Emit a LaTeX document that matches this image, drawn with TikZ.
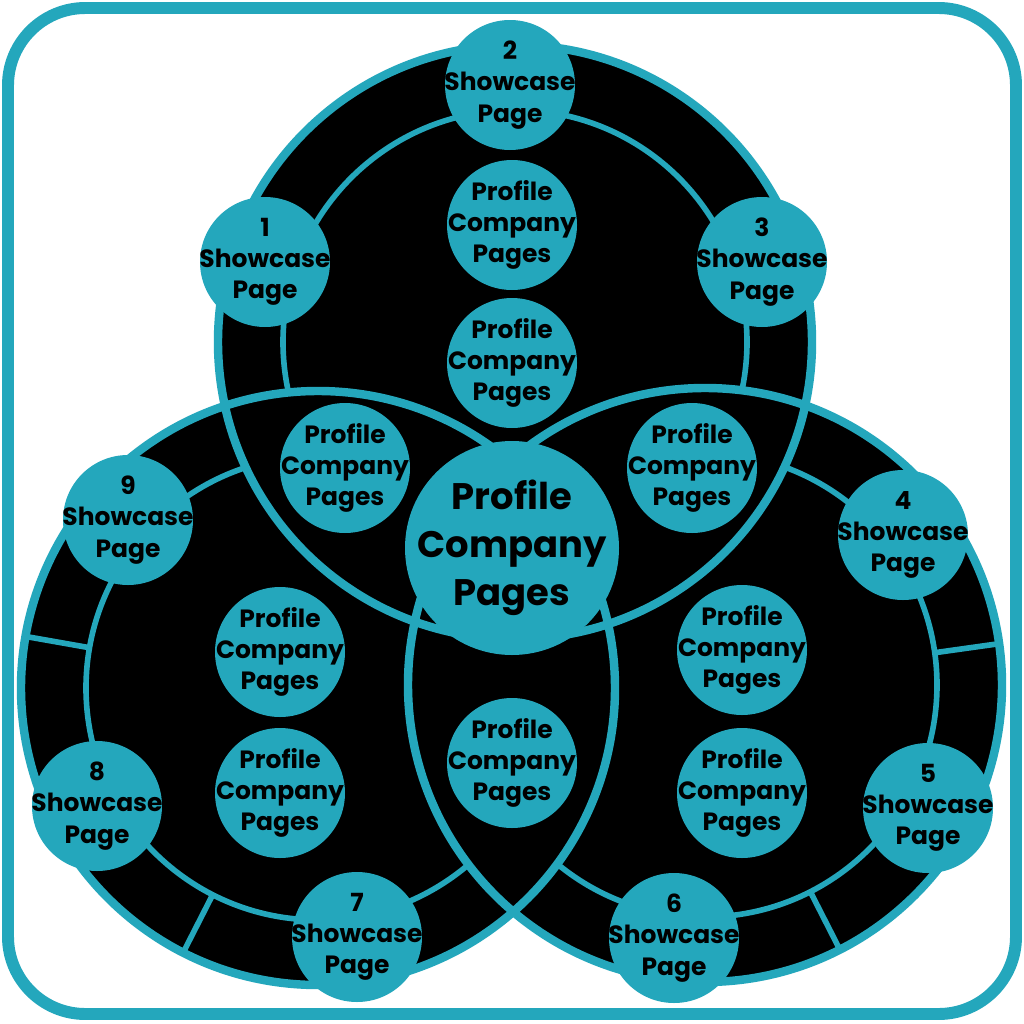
\documentclass[tikz,border=0pt]{standalone}
\usepackage{fontspec}
\setmainfont{Poppins}
\definecolor{teal1}{HTML}{24A7BC}
\tikzset{
  sm/.style={inner sep=0pt,align=center,font=\fontsize{7.1}{8.9}\selectfont\bfseries,text=black},
  big/.style={inner sep=0pt,align=center,font=\fontsize{10.5}{13.6}\selectfont\bfseries,text=black},
  outerc/.style={draw=teal1,line width=2.4pt},
  ring/.style={draw=teal1,line width=1.6pt},
}
\begin{document}
\begin{tikzpicture}[x=0.01cm,y=-0.01cm]
\useasboundingbox (0,0) rectangle (1024,1024);
\draw[teal1,line width=3.4pt,rounded corners=22pt,fill=white] (8,8) rectangle (1016,1014);
\coordinate (T) at (515,342);
\coordinate (L) at (318,688);
\coordinate (R) at (705,685);
\def\RO{297}\def\RI{232}
\fill[black] (T) circle (\RO) (L) circle (\RO) (R) circle (\RO);
\begin{scope}[even odd rule]
 \clip (0,0) rectangle (1024,1024) (L) circle (\RO);
 \clip (0,0) rectangle (1024,1024) (R) circle (\RO);
 \draw[ring] (T) circle (\RI);
 \foreach \a in {50,130}{\draw[ring] (T) ++(\a:\RI) -- ++(\a:\RO-\RI);}
\end{scope}
\begin{scope}[even odd rule]
 \clip (0,0) rectangle (1024,1024) (T) circle (\RO);
 \clip (0,0) rectangle (1024,1024) (R) circle (\RO);
 \draw[ring] (L) circle (\RI);
\end{scope}
\begin{scope}[even odd rule]
 \clip (0,0) rectangle (1024,1024) (T) circle (\RO);
 \clip (0,0) rectangle (1024,1024) (L) circle (\RO);
 \draw[ring] (R) circle (\RI);
\end{scope}
\foreach \a in {190,117}{\draw[ring] (L) ++(\a:\RI) -- ++(\a:\RO-\RI);}
\foreach \a in {-8,63}{\draw[ring] (R) ++(\a:\RI) -- ++(\a:\RO-\RI);}
\draw[outerc] (T) circle (\RO) (L) circle (\RO) (R) circle (\RO);
\fill[teal1] (512,548) circle (107);
\node[big] (c) at (512,548) {Profile\\Company\\Pages};
\foreach \n/\x/\y in {p1/512/225,p2/512/363,p3/345/468,p4/692/468,p5/280/652,p6/280/793,p7/742/650,p8/742/793,p9/512/763}{
  \fill[teal1] (\x,\y) circle (65);
  \node[sm] (\n) at (\x,\y) {Profile\\Company\\Pages};}
\foreach \n/\x/\y in {1/265/262,2/510/85,3/762/262,4/903/535,5/928/808,6/674/938,7/357/937,8/97/806,9/128/520}{
  \fill[teal1] (\x,\y) circle (65);
  \node[sm] (s\n) at (\x,\y) {\n\\Showcase\\Page};}
\end{tikzpicture}
\end{document}
